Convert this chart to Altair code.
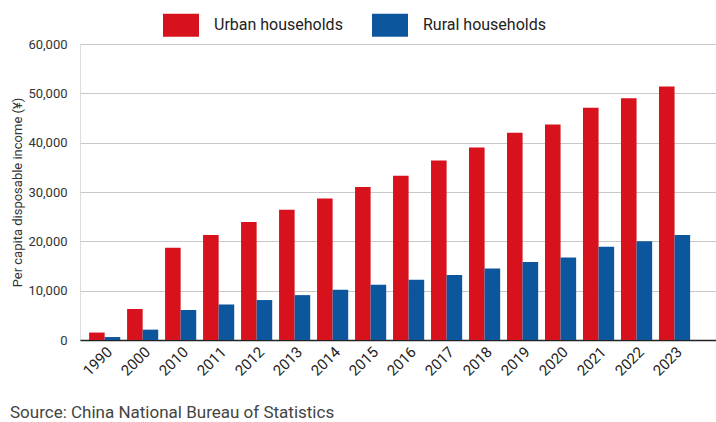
import altair as alt
import pandas as pd

years = ["1990", "2000", "2010", "2011", "2012", "2013", "2014", "2015",
         "2016", "2017", "2018", "2019", "2020", "2021", "2022", "2023"]
urban = [1510, 6280, 18700, 21300, 23900, 26400, 28700, 31000,
         33300, 36400, 39000, 42000, 43700, 47100, 49000, 51400]
rural = [600, 2100, 6100, 7200, 8100, 9100, 10200, 11200,
         12200, 13200, 14500, 15800, 16700, 18900, 20000, 21300]
series = ["Urban households", "Rural households"]
colors = ["#d7121d", "#0c569e"]

rows = []
for y, u, r in zip(years, urban, rural):
    rows.append({"year": y, "series": series[0], "value": u})
    rows.append({"year": y, "series": series[1], "value": r})
df = pd.DataFrame(rows)

FONT = "Roboto"

chart = alt.Chart(df).mark_bar().encode(
    x=alt.X("year:N", sort=years, title=None,
            scale=alt.Scale(paddingInner=0.18, paddingOuter=0.46, align=0.26),
            axis=alt.Axis(labelAngle=315, labelFontSize=15, labelColor="#222",
                          labelFont=FONT, labelPadding=4, ticks=False,
                          domainColor="#222", domainWidth=1.5)),
    xOffset=alt.XOffset("series:N", sort=series,
                        scale=alt.Scale(paddingInner=0, paddingOuter=0)),
    y=alt.Y("value:Q", title="Per capita disposable income (¥)",
            scale=alt.Scale(domain=[0, 60000], nice=False),
            axis=alt.Axis(values=[0, 10000, 20000, 30000, 40000, 50000, 60000],
                          format=",.0f", labelFontSize=13, labelColor="#333",
                          labelFont=FONT, labelPadding=13, ticks=False, domain=False,
                          gridColor="#c8c8c8", gridWidth=1,
                          titleFont=FONT, titleFontSize=13, titleFontWeight="normal",
                          titleColor="#333", titlePadding=3)),
    color=alt.Color("series:N", sort=series,
                    scale=alt.Scale(domain=series, range=colors),
                    legend=alt.Legend(title=None, orient="none", direction="horizontal",
                                      legendX=83, legendY=-37, padding=0,
                                      symbolType="M-1,-0.64H1V0.64H-1Z", symbolSize=1296,
                                      symbolStrokeWidth=0, symbolOpacity=1,
                                      labelFont=FONT, labelFontSize=16, labelColor="#222",
                                      labelOffset=15, columnPadding=29)),
).properties(
    width=636, height=296,
    autosize=alt.AutoSizeParams(type="none"),
    padding={"left": 80, "top": 44, "right": 0, "bottom": 82},
    title=alt.TitleParams("Source: China National Bureau of Statistics",
                          orient="bottom", anchor="start", frame="group",
                          dx=-70, offset=27, fontSize=17, font=FONT,
                          fontWeight="normal", color="#444"),
).configure_view(stroke=None).configure(background="white")

chart.save("out.html", embed_options={"renderer": "svg", "actions": False})
